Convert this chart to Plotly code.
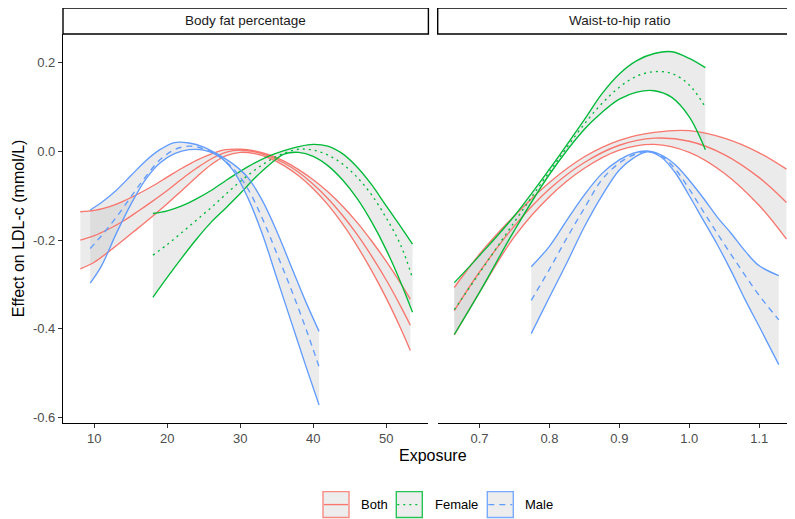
import plotly.graph_objects as go

# ---------------- Data: Body fat percentage ----------------
bf_both_x = [8.1, 10, 12, 14, 16, 18, 20, 22, 24, 26, 28, 30, 32, 34, 36, 38, 40, 42, 44, 46, 48, 50, 52, 53.3]
bf_both_mid = [-0.200, -0.190, -0.175, -0.157, -0.135, -0.112, -0.088, -0.062, -0.038, -0.017, -0.002, 0.003,
               -0.001, -0.011, -0.026, -0.047, -0.074, -0.106, -0.144, -0.187, -0.236, -0.290, -0.350, -0.392]
bf_both_hi = [-0.136, -0.133, -0.125, -0.112, -0.096, -0.078, -0.058, -0.038, -0.020, -0.006, 0.004, 0.005,
              0.001, -0.008, -0.022, -0.041, -0.064, -0.091, -0.123, -0.160, -0.202, -0.248, -0.298, -0.333]
bf_both_lo = [-0.265, -0.250, -0.226, -0.200, -0.173, -0.146, -0.118, -0.088, -0.058, -0.030, -0.010, -0.002,
              -0.005, -0.015, -0.032, -0.055, -0.084, -0.120, -0.163, -0.213, -0.269, -0.331, -0.400, -0.449]

bf_fem_x = [18.04, 20, 22, 24, 26, 28, 30, 32, 34, 36, 38, 40, 42, 44, 46, 48, 50, 52, 53.6]
bf_fem_mid = [-0.234, -0.210, -0.183, -0.155, -0.127, -0.097, -0.068, -0.042, -0.020, -0.004, 0.005, 0.003,
              -0.008, -0.028, -0.058, -0.098, -0.150, -0.212, -0.286]
bf_fem_hi = [-0.140, -0.134, -0.123, -0.107, -0.088, -0.066, -0.045, -0.026, -0.010, 0.002, 0.011, 0.016,
             0.012, -0.005, -0.035, -0.075, -0.123, -0.170, -0.209]
bf_fem_lo = [-0.329, -0.284, -0.240, -0.198, -0.160, -0.128, -0.095, -0.060, -0.030, -0.006, -0.002, -0.011,
             -0.032, -0.064, -0.106, -0.159, -0.222, -0.296, -0.363]

bf_male_x = [9.45, 11, 13, 15, 17, 19, 21, 23, 25, 27, 29, 31, 33, 35, 37, 39, 40.8]
bf_male_mid = [-0.219, -0.190, -0.149, -0.103, -0.058, -0.019, 0.004, 0.012, 0.006, -0.010, -0.038, -0.083,
               -0.150, -0.230, -0.312, -0.400, -0.486]
bf_male_hi = [-0.132, -0.115, -0.088, -0.055, -0.022, 0.004, 0.020, 0.019, 0.010, -0.007, -0.028, -0.058,
              -0.110, -0.180, -0.260, -0.340, -0.406]
bf_male_lo = [-0.297, -0.258, -0.186, -0.120, -0.064, -0.026, -0.005, 0.004, 0.003, -0.010, -0.042, -0.103,
              -0.185, -0.285, -0.385, -0.485, -0.572]

# ---------------- Data: Waist-to-hip ratio ----------------
wh_both_x = [0.664, 0.70, 0.75, 0.80, 0.85, 0.90, 0.95, 1.00, 1.05, 1.10, 1.139]
wh_both_mid = [-0.359, -0.272, -0.168, -0.085, -0.025, 0.014, 0.030, 0.023, -0.007, -0.059, -0.115]
wh_both_hi = [-0.307, -0.232, -0.145, -0.070, -0.012, 0.025, 0.043, 0.047, 0.030, -0.003, -0.040]
wh_both_lo = [-0.414, -0.318, -0.192, -0.102, -0.038, 0.003, 0.016, -0.002, -0.049, -0.122, -0.198]

wh_fem_x = [0.664, 0.70, 0.75, 0.80, 0.85, 0.875, 0.90, 0.925, 0.95, 0.975, 1.00, 1.023]
wh_fem_mid = [-0.357, -0.274, -0.159, -0.046, 0.062, 0.108, 0.145, 0.170, 0.180, 0.176, 0.150, 0.100]
wh_fem_hi = [-0.296, -0.235, -0.145, -0.040, 0.072, 0.130, 0.175, 0.205, 0.221, 0.225, 0.210, 0.189]
wh_fem_lo = [-0.413, -0.318, -0.178, -0.052, 0.050, 0.088, 0.118, 0.134, 0.137, 0.122, 0.078, 0.004]

wh_male_x = [0.774, 0.80, 0.825, 0.85, 0.875, 0.90, 0.92, 0.94, 0.96, 0.98, 1.00, 1.02, 1.04, 1.06, 1.08, 1.10, 1.128]
wh_male_mid = [-0.336, -0.266, -0.195, -0.128, -0.064, -0.026, -0.008, 0.000, -0.010, -0.040, -0.085, -0.135,
               -0.185, -0.233, -0.280, -0.325, -0.380]
wh_male_hi = [-0.260, -0.214, -0.155, -0.098, -0.050, -0.019, -0.004, 0.001, -0.008, -0.030, -0.065, -0.105,
              -0.148, -0.185, -0.225, -0.258, -0.280]
wh_male_lo = [-0.411, -0.329, -0.251, -0.170, -0.100, -0.042, -0.015, -0.001, -0.013, -0.048, -0.100, -0.155,
              -0.210, -0.270, -0.335, -0.395, -0.481]

groups = ["Both", "Female", "Male"]
colors = {"Both": "#F8766D", "Female": "#00BA38", "Male": "#619CFF"}
dashes = {"Both": "solid", "Female": "2px,4px", "Male": "6px,5px"}

panels = [
    ("x", "y", {"Both": (bf_both_x, bf_both_lo, bf_both_mid, bf_both_hi),
                "Female": (bf_fem_x, bf_fem_lo, bf_fem_mid, bf_fem_hi),
                "Male": (bf_male_x, bf_male_lo, bf_male_mid, bf_male_hi)}),
    ("x2", "y2", {"Both": (wh_both_x, wh_both_lo, wh_both_mid, wh_both_hi),
                  "Female": (wh_fem_x, wh_fem_lo, wh_fem_mid, wh_fem_hi),
                  "Male": (wh_male_x, wh_male_lo, wh_male_mid, wh_male_hi)}),
]

RIBBON = "rgba(188,188,188,0.30)"
LW = 1.35

fig = go.Figure()

for xa, ya, data in panels:
    for g in groups:
        xs, lo, mid, hi = data[g]
        fig.add_trace(go.Scatter(x=xs, y=lo, xaxis=xa, yaxis=ya, mode="lines",
                                 line=dict(width=0, shape="spline", color=RIBBON),
                                 showlegend=False, hoverinfo="skip"))
        fig.add_trace(go.Scatter(x=xs, y=hi, xaxis=xa, yaxis=ya, mode="lines",
                                 line=dict(width=0, shape="spline", color=RIBBON),
                                 fill="tonexty", fillcolor=RIBBON,
                                 showlegend=False, hoverinfo="skip"))
    for g in groups:
        xs, lo, mid, hi = data[g]
        for ys, dash in ((lo, "solid"), (hi, "solid"), (mid, dashes[g])):
            fig.add_trace(go.Scatter(x=xs, y=ys, xaxis=xa, yaxis=ya, mode="lines",
                                     line=dict(width=LW, shape="spline", color=colors[g], dash=dash),
                                     showlegend=False, name=g))

W, H = 795, 519
OX, OY = 8, 8  # page body margin offset


def px(x):
    return (x - OX) / W


def py(y):
    return 1 - (y - OY) / H


left_dom = [px(63), px(428.4)]
right_dom = [px(437.7), 1.0]
y_dom = [py(424.3), py(34.1)]

right_end_screen = W + OX
wh_range = [0.64025, 0.64025 + (right_end_screen - 437.7) / 699.3]

tickfont = dict(family="Liberation Sans, Arial, sans-serif", size=13, color="#4D4D4D")

y_ticks = [-0.6, -0.4, -0.2, 0.0, 0.2]
y_ticktext = ["-0.6", "-0.4", "-0.2", "0.0", "0.2"]
bf_ticks = [10, 20, 30, 40, 50]
wh_ticks = [0.7, 0.8, 0.9, 1.0, 1.1]
wh_ticktext = ["0.7", "0.8", "0.9", "1.0", "1.1"]

axis_common = dict(showgrid=False, zeroline=False, showline=True, linecolor="black", linewidth=1.2,
                   ticks="outside", ticklen=4, tickwidth=1.1, tickcolor="#333333", tickfont=tickfont)

fig.update_layout(
    width=W, height=H,
    margin=dict(l=0, r=0, t=0, b=0),
    paper_bgcolor="white", plot_bgcolor="white",
    showlegend=False,
    font=dict(family="Liberation Sans, Arial, sans-serif"),
    xaxis=dict(domain=left_dom, range=[5.725, 55.775], tickvals=bf_ticks, anchor="y", **axis_common),
    xaxis2=dict(domain=right_dom, range=wh_range, tickvals=wh_ticks, ticktext=wh_ticktext,
                anchor="y2", **axis_common),
    yaxis=dict(domain=y_dom, range=[-0.612, 0.265], tickvals=y_ticks, ticktext=y_ticktext,
               anchor="x", **axis_common),
    yaxis2=dict(domain=y_dom, range=[-0.612, 0.265], anchor="x2", showgrid=False, zeroline=False,
                showline=False, showticklabels=False, ticks=""),
)

shapes = []
annotations = []
strip_font = dict(family="Liberation Sans, Arial, sans-serif", size=13.5, color="#1A1A1A")
for (x0, x1), label in (((63, 428.4), "Body fat percentage"), ((437.7, 802.7), "Waist-to-hip ratio")):
    shapes.append(dict(type="rect", xref="paper", yref="paper", x0=px(x0), x1=min(px(x1), 1.0),
                       y0=py(34.1), y1=py(8),
                       line=dict(color="black", width=1.4), fillcolor="white", layer="above"))
    annotations.append(dict(xref="paper", yref="paper", x=px((x0 + x1) / 2), y=py(21),
                            text=label, showarrow=False, font=strip_font, xanchor="center", yanchor="middle"))

title_font = dict(family="Liberation Sans, Arial, sans-serif", size=16, color="black")
annotations.append(dict(xref="paper", yref="paper", x=px(433), y=py(457), text="Exposure", showarrow=False,
                        font=title_font, xanchor="center", yanchor="middle"))
annotations.append(dict(xref="paper", yref="paper", x=px(18), y=py(229), text="Effect on LDL-c (mmol/L)",
                        showarrow=False, font=title_font, textangle=-90, xanchor="center", yanchor="middle"))

legend_font = dict(family="Liberation Sans, Arial, sans-serif", size=13, color="black")
key_pos = {"Both": (323, 359), "Female": (396.3, 432.5), "Male": (487.3, 522.7)}
for g in groups:
    bx, tx = key_pos[g]
    shapes.append(dict(type="rect", xref="paper", yref="paper", x0=px(bx), x1=px(bx + 26),
                       y0=py(519.5), y1=py(493.5),
                       line=dict(color=colors[g], width=1.4), fillcolor="#EBEBEB", opacity=0.85))
    shapes.append(dict(type="line", xref="paper", yref="paper", x0=px(bx + 1), x1=px(bx + 25),
                       y0=py(506.5), y1=py(506.5),
                       line=dict(color=colors[g], width=LW, dash=dashes[g])))
    annotations.append(dict(xref="paper", yref="paper", x=px(tx), y=py(506.5), text=g, showarrow=False,
                            font=legend_font, xanchor="left", yanchor="middle"))

fig.update_layout(shapes=shapes, annotations=annotations)

fig.write_html("out.html")
